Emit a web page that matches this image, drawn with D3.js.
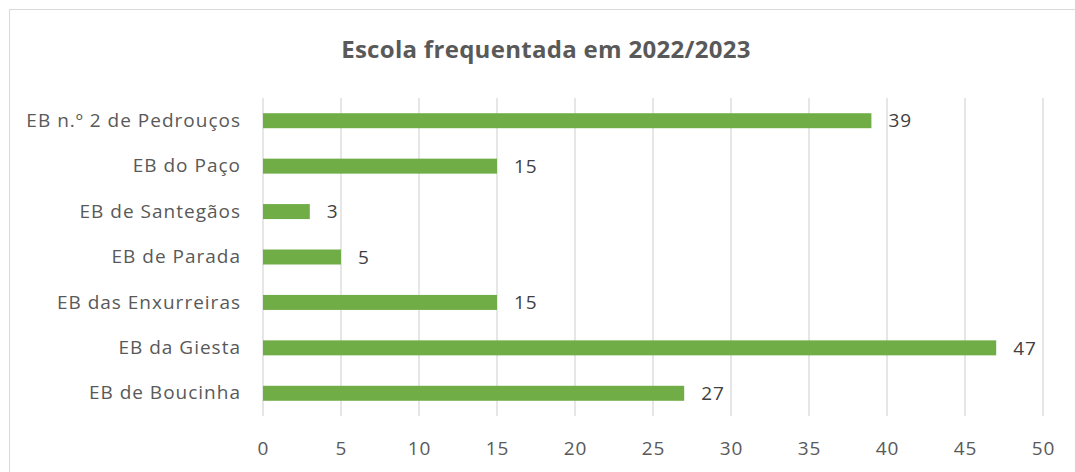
<!DOCTYPE html>
<html>
  <head>
    <meta charset="utf-8">
    <title>Escola frequentada em 2022/2023</title>
    <style>
      body { margin: 0; background: #fff; }
      svg { display: block; font-family: "Open Sans", sans-serif; }
    </style>
  </head>
  <body>
    <svg width="1075" height="472"></svg>
    <script src="https://d3js.org/d3.v7.min.js"></script>
    <script>

    // data (top to bottom)
    var schools = ["EB n.º 2 de Pedrouços", "EB do Paço", "EB de Santegãos", "EB de Parada",
                   "EB das Enxurreiras", "EB da Giesta", "EB de Boucinha"];
    var counts = [39, 15, 3, 5, 15, 47, 27];
    var xTicks = [0, 5, 10, 15, 20, 25, 30, 35, 40, 45, 50];

    var svg = d3.select("svg"),
        margin = {top: 98, right: 32, bottom: 56, left: 263},
        width = +svg.attr("width") - margin.left - margin.right,
        height = +svg.attr("height") - margin.top - margin.bottom;

    // chart frame (cropped at right / bottom in the original)
    svg.append("rect")
        .attr("x", 9.5).attr("y", 9.5)
        .attr("width", 1100).attr("height", 500)
        .attr("fill", "#fff")
        .attr("stroke", "#d9d9d9");

    svg.append("text")
        .attr("x", 546).attr("y", 58)
        .attr("text-anchor", "middle")
        .attr("fill", "#595959")
        .attr("font-size", 24)
        .attr("font-weight", "bold")
        .attr("letter-spacing", 0.3)
        .text("Escola frequentada em 2022/2023");

    var g = svg.append("g")
        .attr("transform", "translate(" + margin.left + "," + margin.top + ")");

    var x = d3.scaleLinear().domain([0, 50]).range([0, width]);
    var y = d3.scaleBand().domain(schools).range([0, height]).paddingInner(0.67).paddingOuter(0.335);

    // vertical gridlines
    g.append("g")
        .selectAll("line")
        .data(xTicks)
        .join("line")
          .attr("x1", function(d) { return x(d); })
          .attr("x2", function(d) { return x(d); })
          .attr("y1", 0)
          .attr("y2", height)
          .attr("stroke", "#d9d9d9")
          .attr("stroke-width", 1.3);

    // x tick labels
    var xAxis = g.append("g")
        .attr("transform", "translate(0," + height + ")")
        .call(d3.axisBottom(x).tickValues(xTicks).tickSize(0).tickPadding(26));
    xAxis.select(".domain").remove();
    xAxis.selectAll("text")
        .attr("fill", "#595959")
        .attr("font-size", 19)
        .attr("letter-spacing", 1)
        .attr("font-family", "Open Sans, sans-serif");

    // category labels
    var yAxis = g.append("g")
        .call(d3.axisLeft(y).tickSize(0).tickPadding(22));
    yAxis.select(".domain").remove();
    yAxis.selectAll("text")
        .attr("fill", "#595959")
        .attr("font-size", 19)
        .attr("letter-spacing", 1)
        .attr("font-family", "Open Sans, sans-serif");

    var rows = schools.map(function(s, i) { return {name: s, value: counts[i]}; });

    g.selectAll(".bar")
        .data(rows)
        .join("rect")
          .attr("class", "bar")
          .attr("x", x(0))
          .attr("y", function(d) { return y(d.name); })
          .attr("width", function(d) { return x(d.value) - x(0); })
          .attr("height", y.bandwidth())
          .attr("fill", "#70ad47");

    g.selectAll(".lbl")
        .data(rows)
        .join("text")
          .attr("class", "lbl")
          .attr("x", function(d) { return x(d.value) + 17; })
          .attr("y", function(d) { return y(d.name) + y.bandwidth() / 2; })
          .attr("dy", "0.35em")
          .attr("fill", "#404040")
          .attr("font-size", 19)
          .attr("letter-spacing", 1)
          .text(function(d) { return d.value; });

    </script>
  </body>
</html>
